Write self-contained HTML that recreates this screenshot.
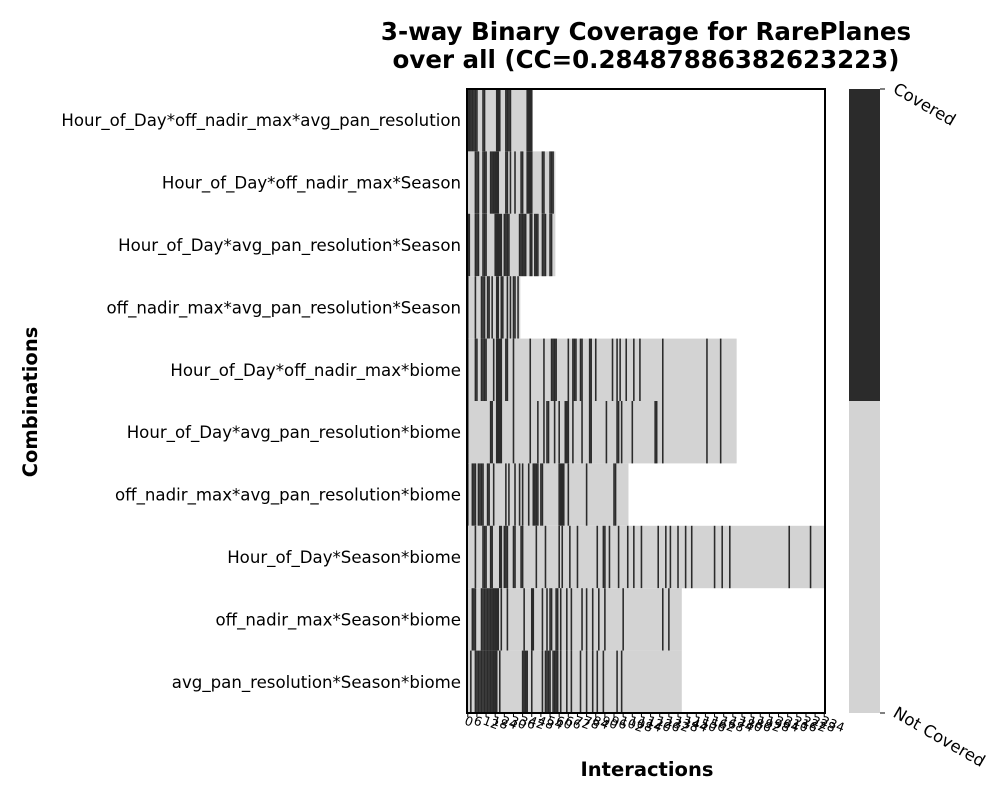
<!DOCTYPE html>
<html><head><meta charset="utf-8"><style>
body{margin:0;background:#fff;font-family:"Liberation Sans","DejaVu Sans",sans-serif}
svg text{font-family:"DejaVu Sans","Liberation Sans",sans-serif}
</style></head><body>
<svg id="chart" width="1000" height="800" xmlns="http://www.w3.org/2000/svg">
<text x="646" y="40" text-anchor="middle" font-size="24.5" font-weight="bold">3-way Binary Coverage for RarePlanes</text>
<text x="646" y="68" text-anchor="middle" font-size="24.5" font-weight="bold">over all (CC=0.28487886382623223)</text>
<text transform="translate(37,402) rotate(-90)" text-anchor="middle" font-size="19.5" font-weight="bold">Combinations</text>
<text x="647" y="776" text-anchor="middle" font-size="19.5" font-weight="bold">Interactions</text>
<g id="cells"></g>
<g id="ylabels"></g>
<g id="xticks"></g>
<rect x="467" y="89" width="358" height="624" fill="none" stroke="#000" stroke-width="2"/>
<g>
<rect x="849" y="89" width="31" height="312" fill="#2b2b2b"/>
<rect x="849" y="401" width="31" height="312" fill="#d3d3d3"/>
<line x1="880" y1="89" x2="885" y2="89" stroke="#000"/>
<line x1="880" y1="713" x2="885" y2="713" stroke="#000"/>
<text transform="translate(892,92) rotate(30)" font-size="16.5">Covered</text>
<text transform="translate(892,716) rotate(30)" font-size="16.5">Not Covered</text>
</g>
</svg>
<script>
const rowLabels = ["Hour_of_Day*off_nadir_max*avg_pan_resolution","Hour_of_Day*off_nadir_max*Season","Hour_of_Day*avg_pan_resolution*Season","off_nadir_max*avg_pan_resolution*Season","Hour_of_Day*off_nadir_max*biome","Hour_of_Day*avg_pan_resolution*biome","off_nadir_max*avg_pan_resolution*biome","Hour_of_Day*Season*biome","off_nadir_max*Season*biome","avg_pan_resolution*Season*biome"];
const rowLengths = [43,58,58,35,177,177,106,235,141,141];
const nCols = 235;
const covered = [
[0,1,2,3,4,5,6,10,11,19,20,21,25,26,27,28,39,40,41,42],
[5,6,7,10,11,12,15,16,17,18,19,20,25,26,28,31,35,36,39,40,41,42,49,50,54,55,56],
[0,1,5,6,7,10,11,12,18,19,20,21,22,24,25,26,27,34,35,36,37,38,41,42,44,45,46,49,50,51,54,55],
[0,5,9,10,11,13,14,16,19,20,22,23,26,28,30,31,33],
[0,5,6,9,10,11,12,17,19,20,21,22,25,26,30,41,50,55,56,57,58,66,69,70,71,74,75,80,81,84,95,98,100,104,109,113,128,157,166],
[0,15,16,19,20,21,22,30,41,46,50,52,53,57,60,64,65,66,69,75,80,81,91,98,99,101,108,123,124,128,157,166],
[0,3,4,5,7,8,9,10,13,14,17,25,27,31,34,36,40,43,44,45,46,48,49,60,61,62,63,66,78,96,97],
[5,10,11,12,15,16,21,22,24,25,26,30,31,35,36,45,51,60,62,67,72,85,89,90,93,99,105,109,114,125,130,133,138,143,147,162,167,172,211,225],
[3,4,5,9,10,11,12,13,14,15,16,17,18,19,20,22,26,37,42,43,49,52,54,55,58,59,61,65,68,75,78,82,86,90,102,128,132],
[2,5,6,7,8,9,10,11,12,13,14,15,16,17,18,19,21,36,37,38,39,42,49,51,52,53,54,56,57,58,59,61,65,68,74,78,82,85,89,98,101]
];
const tickStep = 6;
const NS="http://www.w3.org/2000/svg";
const X0=467,Y0=89,W=358,H=624;
const cw=W/nCols, rh=H/rowLabels.length;
const xs=c=>X0+c*cw, ys=r=>Y0+r*rh;
const cells=document.getElementById('cells');
function mk(t,a){const e=document.createElementNS(NS,t);for(const k in a)e.setAttribute(k,a[k]);return e;}
rowLabels.forEach((lab,r)=>{
  const bg=mk('rect',{x:xs(0),y:ys(r),width:rowLengths[r]*cw,height:rh,fill:'#d3d3d3'});
  
  
  cells.appendChild(bg);
  covered[r].forEach(c=>{
    if(c>=rowLengths[r])return;
    const e=mk('rect',{x:xs(c),y:ys(r),width:cw+0.05,height:rh,fill:'#2b2b2b'});
    
    
    cells.appendChild(e);
  });
  const t=mk('text',{x:461,y:ys(r)+rh/2+6,'text-anchor':'end','font-size':16.6});
  
  
  t.textContent=lab;
  document.getElementById('ylabels').appendChild(t);
});
const xt=document.getElementById('xticks');
for(let v=0;v<nCols;v+=tickStep){
  const x=xs(v+0.5);
  const tk=mk('line',{x1:x,y1:713,x2:x,y2:717,stroke:'#000'});
  
  
  xt.appendChild(tk);
  const t=mk('text',{transform:`translate(${x-4},${724}) rotate(20)`,'font-size':12.5});
  
  
  t.textContent=v;
  xt.appendChild(t);
}
</script>
</body></html>
